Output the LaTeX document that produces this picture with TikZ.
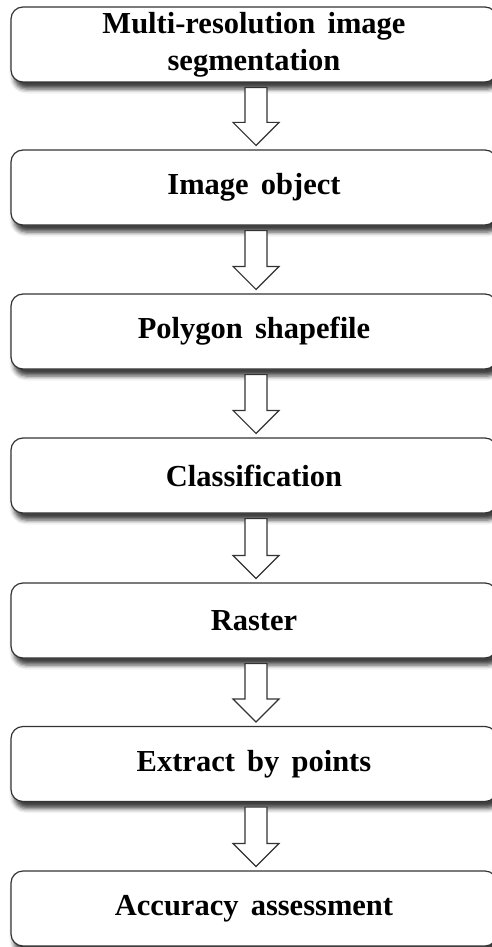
\documentclass[tikz,border=0pt]{standalone}
\usepackage{fontspec}
\setmainfont[WordSpace=1.6]{Liberation Serif}
\usetikzlibrary{calc,shadows.blur}

\tikzset{
  stagebox/.style={
    draw=black!80, line width=1.2pt, fill=white,
    rounded corners=12pt,
    minimum width=486pt, minimum height=75pt,
    inner sep=0pt, align=center,
    font=\fontsize{30.5}{37}\selectfont\bfseries,
    blur shadow={shadow xshift=3pt, shadow yshift=-7pt,
                 shadow blur radius=4.5pt, shadow opacity=75}
  },
  hollowarrow/.style={draw=black!80, line width=1.2pt, fill=white, line join=miter}
}

% hollow block arrow from the bottom of one stage to the top of the next
\newcommand\stagearrow[2]{%
  \draw[hollowarrow] let \p1=(#1.south), \p2=(#2.north) in
    (\x1+2pt-11pt,\y1-5pt) -- (\x1+2pt+11pt,\y1-5pt)
    -- (\x1+2pt+11pt,\y2+27pt) -- (\x1+2pt+23pt,\y2+27pt)
    -- (\x1+2pt,\y2+4pt)
    -- (\x1+2pt-23pt,\y2+27pt) -- (\x1+2pt-11pt,\y2+27pt) -- cycle;
}

\begin{document}
\begin{tikzpicture}[x=1pt,y=-1pt]
  \useasboundingbox (0,0) rectangle (492,947);

  \node[stagebox] (s1) at (254,44.5) {Multi-resolution image\\segmentation};
  \node[stagebox] (s2) at (254,187.5) {Image object};
  \node[stagebox] (s3) at (254,331.5) {Polygon shapefile};
  \node[stagebox] (s4) at (254,475.5) {Classification};
  \node[stagebox] (s5) at (254,620.5) {Raster};
  \node[stagebox] (s6) at (254,764) {Extract by points};
  \node[stagebox] (s7) at (254,908.5) {Accuracy assessment};

  \stagearrow{s1}{s2}
  \stagearrow{s2}{s3}
  \stagearrow{s3}{s4}
  \stagearrow{s4}{s5}
  \stagearrow{s5}{s6}
  \stagearrow{s6}{s7}
\end{tikzpicture}
\end{document}
